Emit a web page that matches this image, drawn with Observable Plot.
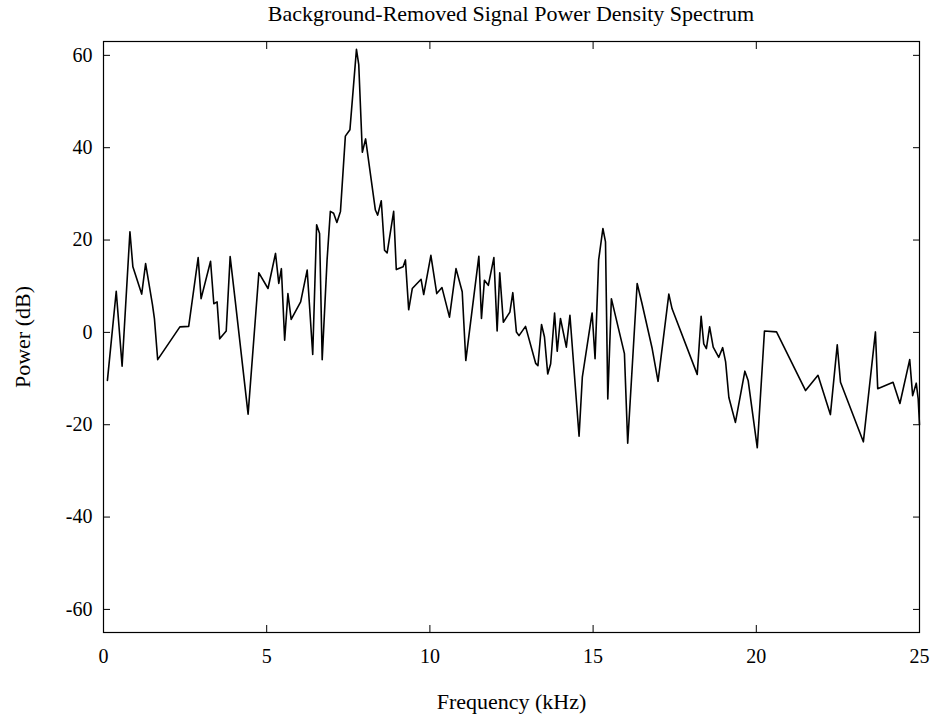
<!DOCTYPE html>
<html>
<head>
<meta charset="utf-8">
<script src="https://cdn.jsdelivr.net/npm/d3@7"></script>
<script src="https://cdn.jsdelivr.net/npm/@observablehq/plot@0.6"></script>
<style>
  body { margin: 0; background: #fff; }
  #title { font-family: "Liberation Serif", "Times New Roman", serif; font-size: 22px; height: 28px; line-height: 28px; width: 932px; padding-left: 90px; box-sizing: border-box; text-align: center; color: #000; }
  svg { display: block; }
</style>
</head>
<body>
<div id="title">Background-Removed Signal Power Density Spectrum</div>
<div id="chart"></div>
<script>
const freqKHz = [0.12, 0.39, 0.57, 0.81, 0.90, 1.17, 1.29, 1.50, 1.56, 1.66, 2.34, 2.61, 2.90, 2.99, 3.28, 3.38, 3.48, 3.56, 3.76, 3.88, 4.04, 4.43, 4.76, 5.04, 5.27, 5.37, 5.45, 5.55, 5.65, 5.75, 6.04, 6.24, 6.41, 6.53, 6.62, 6.70, 6.85, 6.95, 7.05, 7.15, 7.26, 7.41, 7.55, 7.75, 7.82, 7.93, 8.03, 8.33, 8.40, 8.51, 8.61, 8.69, 8.89, 8.97, 9.18, 9.25, 9.35, 9.46, 9.73, 9.81, 10.03, 10.21, 10.37, 10.60, 10.80, 10.99, 11.10, 11.50, 11.58, 11.67, 11.79, 11.96, 12.06, 12.14, 12.25, 12.45, 12.54, 12.65, 12.73, 12.93, 13.24, 13.31, 13.42, 13.51, 13.61, 13.70, 13.82, 13.90, 14.00, 14.18, 14.29, 14.57, 14.67, 14.97, 15.06, 15.17, 15.30, 15.38, 15.45, 15.56, 15.96, 16.06, 16.35, 16.50, 16.81, 16.99, 17.32, 17.42, 18.19, 18.31, 18.39, 18.47, 18.57, 18.68, 18.85, 18.97, 19.06, 19.16, 19.36, 19.65, 19.75, 20.03, 20.25, 20.62, 21.51, 21.89, 22.27, 22.48, 22.58, 23.28, 23.65, 23.72, 24.19, 24.40, 24.70, 24.79, 24.90, 24.96, 25.0];
const powerDB = [-10.4, 8.9, -7.3, 21.8, 14.2, 8.3, 14.9, 6.0, 3.0, -5.9, 1.2, 1.3, 16.2, 7.3, 15.4, 6.2, 6.6, -1.4, 0.3, 16.4, 6.6, -17.7, 12.9, 9.5, 17.1, 10.6, 13.8, -1.7, 8.4, 2.8, 6.6, 13.5, -4.8, 23.3, 21.4, -5.9, 15.7, 26.2, 25.8, 23.8, 26.2, 42.5, 43.9, 61.3, 58.0, 39.0, 41.9, 26.5, 25.4, 28.5, 17.8, 17.2, 26.2, 13.6, 14.2, 15.7, 4.9, 9.5, 11.5, 8.2, 16.7, 8.4, 9.7, 3.3, 13.8, 8.8, -6.1, 16.5, 3.0, 11.3, 10.2, 16.2, 0.3, 12.9, 2.2, 4.4, 8.6, 0.1, -0.7, 1.3, -6.7, -7.2, 1.7, -1.0, -9.0, -6.8, 4.2, -4.1, 3.0, -3.2, 3.7, -22.5, -9.7, 4.2, -5.7, 15.7, 22.5, 19.6, -14.4, 7.3, -4.6, -24.0, 10.6, 6.2, -3.5, -10.6, 8.3, 5.1, -9.1, 3.5, -2.5, -3.5, 1.2, -3.2, -5.4, -3.3, -6.4, -14.1, -19.5, -8.4, -10.4, -25.0, 0.3, 0.1, -12.6, -9.3, -17.8, -2.7, -10.8, -23.7, 0.1, -12.2, -10.8, -15.4, -5.9, -13.7, -11.0, -14.4, -20.0];
const xTicks = [0, 5, 10, 15, 20, 25];
const yTicks = [-60, -40, -20, 0, 20, 40, 60];

const data = freqKHz.map((f, i) => ({f, p: powerDB[i]}));
const font = '"Liberation Serif", "Times New Roman", serif';
const fmt = d => String(d);

const chart = Plot.plot({
  width: 932,
  height: 691,
  marginTop: 13,
  marginBottom: 87,
  marginLeft: 103,
  marginRight: 13,
  style: {fontFamily: font, fontSize: "20px", color: "#000", background: "#fff"},
  x: {domain: [0, 25]},
  y: {domain: [-65, 63]},
  marks: [
    Plot.frame({stroke: "#000", strokeWidth: 1.2}),
    Plot.axisX(xTicks, {anchor: "bottom", tickSize: 0, tickPadding: 16, label: null, fontSize: 20, tickFormat: fmt}),
    Plot.axisX(xTicks, {anchor: "bottom", tickSize: -7, text: null, label: null}),
    Plot.axisX(xTicks, {anchor: "top", tickSize: -7, text: null, label: null}),
    Plot.axisY(yTicks, {anchor: "left", tickSize: 0, tickPadding: 11, label: null, fontSize: 20, tickFormat: fmt}),
    Plot.axisY(yTicks, {anchor: "left", tickSize: -7, text: null, label: null}),
    Plot.axisY(yTicks, {anchor: "right", tickSize: -7, text: null, label: null}),
    Plot.text(["Frequency (kHz)"], {frameAnchor: "bottom", dy: 76, fontSize: 22, fill: "#000"}),
    Plot.text(["Power (dB)"], {frameAnchor: "left", dx: -81, textAnchor: "middle", rotate: -90, fontSize: 22, fill: "#000"}),
    Plot.line(data, {x: "f", y: "p", stroke: "#000", strokeWidth: 1.6})
  ]
});
document.getElementById("chart").append(chart);
</script>
</body>
</html>
